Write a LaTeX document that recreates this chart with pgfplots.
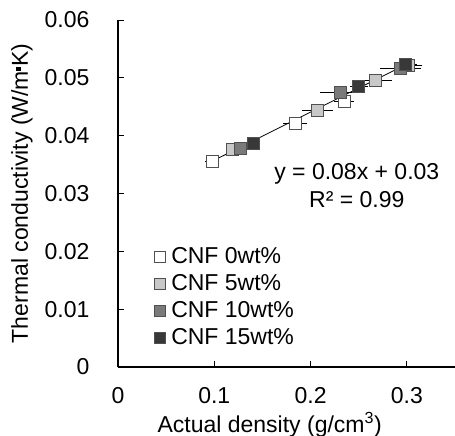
\documentclass[border=0pt]{standalone}
\usepackage{fontspec}
\setmainfont{Liberation Sans}
\usepackage{pgfplots}
\pgfplotsset{compat=1.18}
\definecolor{lgray}{HTML}{C8C8C8}
\definecolor{mgray}{HTML}{7A7A7A}
\definecolor{dgray}{HTML}{383838}
\definecolor{edge}{HTML}{505050}

% x, y, x error
\pgfplotstableread{
x y ex
0.098 0.0356 0.002
0.184 0.0421 0.007
0.235 0.0460 0.005
0.298 0.0521 0.005
}\cnfzero
\pgfplotstableread{
x y ex
0.119 0.0376 0.002
0.207 0.0443 0.011
0.267 0.0495 0.012
0.302 0.0521 0.009
}\cnffive
\pgfplotstableread{
x y ex
0.127 0.0378 0.002
0.231 0.0475 0.016
0.293 0.0516 0.016
}\cnften
\pgfplotstableread{
x y ex
0.1405 0.0387 0.002
0.250 0.0485 0.004
0.299 0.0523 0.006
}\cnffifteen

\newcommand{\fs}{\fontsize{23}{28}\selectfont}
\pgfplotsset{
  cnf/.style={only marks, mark=square*, mark size=6pt,
    mark options={fill=#1, draw=edge, line width=0.8pt},
    error bars/.cd, x dir=both, x explicit,
    error bar style={black, line width=0.8pt},
    error mark options={black, mark size=5pt, line width=0.8pt}},
}

\begin{document}
\begin{tikzpicture}
\begin{axis}[
  scale only axis, width=337pt, height=347pt,
  xmin=0, xmax=0.35, ymin=0, ymax=0.06,
  scaled ticks=false,
  axis lines=left, axis line style={-, line width=1.6pt},
  xtick={0,0.1,0.2,0.3}, xticklabels={0,0.1,0.2,0.3},
  ytick={0,0.01,0.02,0.03,0.04,0.05,0.06},
  yticklabels={0,0.01,0.02,0.03,0.04,0.05,0.06},
  tick align=inside, major tick length=6pt,
  tick style={line width=1pt, black},
  ticklabel style={font=\fs},
  yticklabel style={xshift=-25pt},
  xticklabel style={yshift=-17pt},
  xlabel={Actual density (g/cm\textsuperscript{3})},
  ylabel={Thermal conductivity (W/m\raisebox{0.32em}{\rule{0.18em}{0.18em}}K)},
  every axis x label/.style={at={(axis description cs:0.45,-0.166)}, anchor=center, font=\fs},
  every axis y label/.style={at={(axis description cs:-0.285,0.5)}, anchor=center, rotate=90, font=\fs},
  legend style={at={(axis description cs:0.107,0.35)}, anchor=north west,
    draw=none, fill=none, font=\fs, row sep=5.5pt, inner sep=0pt,
    /tikz/every odd column/.append style={column sep=4pt}},
  legend cell align=left,
  legend image code/.code={\draw[#1, mark size=5.5pt] plot coordinates {(0.2cm,0cm)};},
]
  \coordinate (O) at (rel axis cs:0,0);
  \addplot[cnf=white] table[x=x, y=y, x error=ex]{\cnfzero};
  \addplot[cnf=lgray] table[x=x, y=y, x error=ex]{\cnffive};
  \addplot[cnf=mgray] table[x=x, y=y, x error=ex]{\cnften};
  \addplot[cnf=dgray] table[x=x, y=y, x error=ex]{\cnffifteen};
  \addplot[black, line width=0.8pt, no marks, forget plot] coordinates {(0.098,0.0356) (0.305,0.0528)};
  \legend{CNF 0wt\%, CNF 5wt\%, CNF 10wt\%, CNF 15wt\%}
  \node[font=\fs, align=center, inner sep=0pt] at (axis cs:0.248,0.0313) {y = 0.08x + 0.03\\R² = 0.99};
\end{axis}
\pgfresetboundingbox
\path[use as bounding box] (O) ++(-118pt,-69pt) rectangle ++(455pt,436pt);
\end{tikzpicture}
\end{document}
